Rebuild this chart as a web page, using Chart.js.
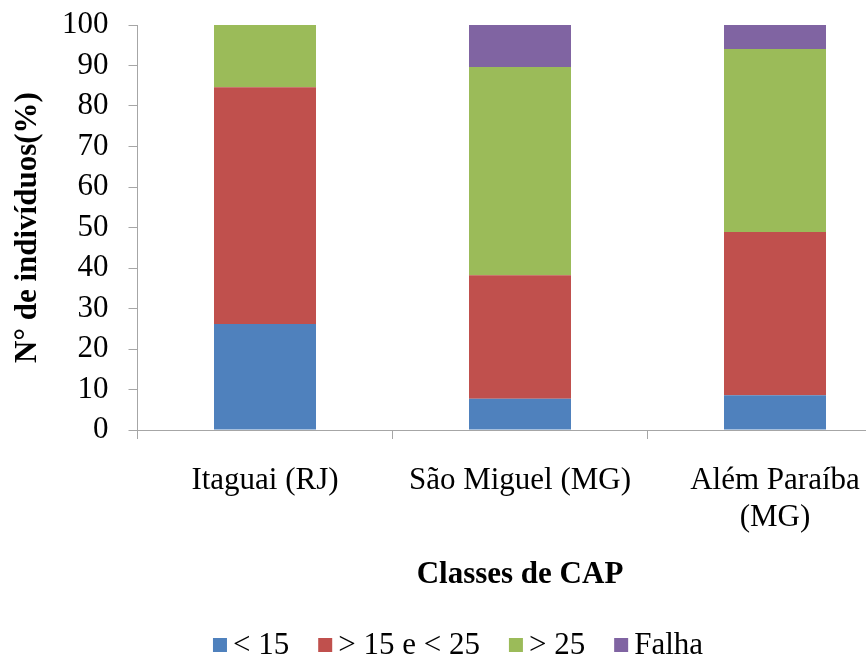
<!DOCTYPE html>
<html>
<head>
<meta charset="utf-8">
<script src="https://cdn.jsdelivr.net/npm/chart.js@4/dist/chart.umd.min.js"></script>
<style>
  html, body { margin: 0; padding: 0; background: #fff; overflow: hidden; width: 866px; height: 660px; }
  #wrap { position: absolute; left: 0; top: 0; width: 916px; height: 660px; }
</style>
</head>
<body>
<div id="wrap"><canvas id="c" width="916" height="660"></canvas></div>
<script>
// ---- data ----
const categories = ['Itaguai (RJ)', 'São Miguel (MG)', ['Além Paraíba', '(MG)']];
const seriesNames = ['< 15', '> 15 e < 25', '> 25', 'Falha'];
const lt15 = [26.2, 7.7, 8.6];
const from15to25 = [58.4, 30.5, 40.3];
const gt25 = [15.4, 51.4, 45.2];
const falha = [0, 10.4, 5.9];
const yTicks = [0, 10, 20, 30, 40, 50, 60, 70, 80, 90, 100];
const xTitle = 'Classes de CAP';
const yTitle = 'N° de indivíduos(%)';

const colors = ['#4F81BD', '#C0504D', '#9BBB59', '#8064A2'];
const seriesValues = [lt15, from15to25, gt25, falha];
const FONT = '"Liberation Serif", "Times New Roman", serif';
const axisColor = '#a6a6a6';

const customLegend = {
  id: 'customLegend',
  afterDraw(chart) {
    const ctx = chart.ctx;
    ctx.save();
    ctx.font = '31px ' + FONT;
    const box = 14, gap = 6, spacing = 29;
    const items = chart.data.datasets.map(d => ({ text: d.label, color: d.backgroundColor, w: ctx.measureText(d.label).width }));
    let total = 0;
    items.forEach((it, i) => { total += box + gap + it.w + (i < items.length - 1 ? spacing : 0); });
    let x = 458 - total / 2;
    const y = 645;
    ctx.textBaseline = 'middle';
    ctx.textAlign = 'left';
    items.forEach(it => {
      ctx.fillStyle = it.color;
      ctx.fillRect(x, y - box / 2, box, box);
      x += box + gap;
      ctx.fillStyle = '#000';
      ctx.fillText(it.text, x, y + 1);
      x += it.w + spacing;
    });
    ctx.restore();
  }
};

new Chart(document.getElementById('c'), {
  type: 'bar',
  data: {
    labels: categories,
    datasets: seriesNames.map((name, i) => ({
      label: name,
      data: seriesValues[i],
      backgroundColor: colors[i],
      borderWidth: 0,
      categoryPercentage: 1.0,
      barPercentage: 0.4
    }))
  },
  options: {
    responsive: false,
    animation: false,
    layout: { padding: { left: 0, right: 13.5, top: 25, bottom: 0 } },
    plugins: {
      legend: { display: false },
      tooltip: { enabled: false }
    },
    scales: {
      x: {
        stacked: true,
        afterFit: s => { s.height = 230; s.paddingLeft = 0; s.paddingRight = 0; },
        grid: { offset: true, drawOnChartArea: false, drawTicks: true, tickLength: 9, color: axisColor },
        border: { color: axisColor, width: 1 },
        ticks: { color: '#000', font: { family: FONT, size: 31 }, padding: 23, maxRotation: 0, autoSkip: false },
        title: { display: true, text: xTitle, color: '#000', font: { family: FONT, size: 31, weight: 'bold' }, padding: { top: 0, bottom: 66 } }
      },
      y: {
        stacked: true,
        min: 0,
        max: 100,
        afterFit: s => { s.width = 137.5; s.paddingTop = 0; s.paddingBottom = 0; },
        afterBuildTicks: s => { s.ticks = yTicks.map(v => ({ value: v })); },
        grid: { drawOnChartArea: false, drawTicks: true, tickLength: 9, color: axisColor },
        border: { color: axisColor, width: 1 },
        ticks: { color: '#000', font: { family: FONT, size: 31 }, padding: 20, autoSkip: false, stepSize: 10 },
        title: { display: true, text: yTitle, color: '#000', font: { family: FONT, size: 31, weight: 'bold' }, padding: { top: 9, bottom: 0 } }
      }
    }
  },
  plugins: [customLegend]
});
</script>
</body>
</html>
